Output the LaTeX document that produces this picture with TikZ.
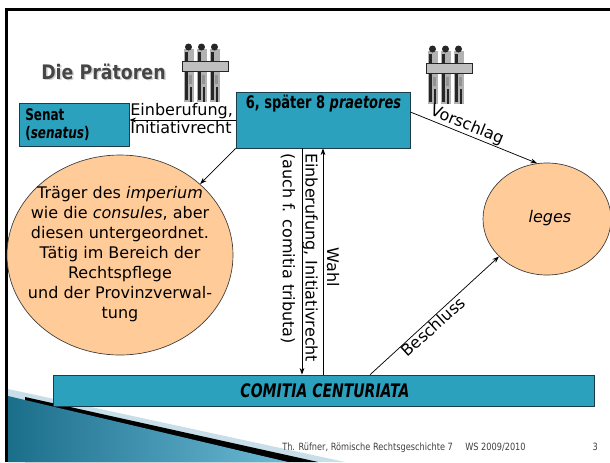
\documentclass[tikz,border=0pt]{standalone}
\usepackage{fontspec}
\setmainfont{DejaVu Sans}
\newfontfamily\cb{DejaVu Sans}[FakeStretch=0.75]
\newfontfamily\ft{DejaVu Sans}[FakeStretch=0.82]
\newfontfamily\tf{DejaVu Sans}[FakeStretch=0.87]
\usetikzlibrary{arrows.meta,shapes.geometric,calc}
\definecolor{boxblue}{HTML}{2BA1BD}
\definecolor{boxline}{HTML}{1E3C48}
\definecolor{peach}{HTML}{FFCC99}
\definecolor{ellline}{HTML}{3A3A3A}
\definecolor{footgray}{HTML}{404040}
\definecolor{swdark}{HTML}{1B6E8A}
\definecolor{swlight}{HTML}{6BBAD6}
\definecolor{swband}{HTML}{C8DEE8}
\begin{document}
\begin{tikzpicture}[x=0.75pt,y=-0.75pt,font=\fontsize{12}{15}\selectfont,
  arr/.style={-{Stealth[length=5pt,width=3.6pt]},line width=0.55pt},
  bluebox/.style={draw=boxline,fill=boxblue,line width=0.6pt,rectangle,inner sep=0pt},
  peachell/.style={draw=ellline,fill=peach,ellipse,line width=0.5pt,inner sep=0pt},
  lbl/.style={inner sep=0.5pt},
  titlestyle/.style={anchor=base west,inner sep=0pt,font=\tf\bfseries\fontsize{15}{18}\selectfont},
  footstyle/.style={inner sep=0pt,text=footgray,font=\ft\fontsize{7.5}{9}\selectfont}]
\useasboundingbox (0,0) rectangle (610,462);
\fill[white] (0,0) rectangle (610,462);

% bottom-left swoosh
\fill[swband] (8,389) -- (345,462) -- (8,462) -- cycle;
\fill[black] (25,397) -- (318,462) -- (25,462) -- cycle;
\shade[left color=swdark,right color=swlight] (8,396) -- (288,462) -- (8,462) -- cycle;

% frame
\fill[black] (5,8) rectangle (610,11);
\fill[black] (5,8) rectangle (8,462);

% soldiers
\foreach \gx/\gy in {183/43,427/45}{
  \foreach \i in {0,1,2}{
    \fill[gray!60] (\gx+13*\i+1,\gy+6) rectangle ++(10,53);
    \fill[gray!30!black] (\gx+13*\i+5.5,\gy+4) circle (3.5);
    \fill[gray!30!black] (\gx+13*\i+2,\gy+9) rectangle ++(3,48);
    \fill[gray!85] (\gx+13*\i+6,\gy+32) rectangle ++(3,9);
    \fill[gray!30!black] (\gx+13*\i+7,\gy+44) rectangle ++(2,15);
  }
  \fill[gray!50] (\gx-1,\gy+18) rectangle ++(46,10);
  \draw[gray!30!black,line width=0.4pt] (\gx-1,\gy+18) rectangle ++(46,10);
}

% title
\node[titlestyle,text=gray!35] (titleshadow) at (42.5,80.5) {Die Prätoren};
\node[titlestyle,text=gray!55!black] (title) at (41,79) {Die Prätoren};

% boxes
\node[bluebox,minimum width=82.5pt,minimum height=32.25pt] (senat) at (74,124.5) {};
\node[anchor=west,align=left,inner sep=0pt,font=\cb\bfseries\fontsize{12}{13.5}\selectfont] (senattxt) at (25,124.5) {Senat\\(\textit{senatus})};

\node[bluebox,minimum width=130.5pt,minimum height=42pt] (praet) at (323,120) {};
\node[anchor=base,inner sep=0pt,font=\cb\bfseries\fontsize{13}{15}\selectfont] (praettxt) at (323.5,108) {6, später 8 \textit{praetores}};

\node[bluebox,minimum width=405.75pt,minimum height=23.25pt] (comitia) at (323.5,390.5) {};
\node[inner sep=0pt,font=\cb\bfseries\itshape\fontsize{14}{16}\selectfont] (comtxt) at (325,391) {COMITIA CENTURIATA};

% ellipses
\node[peachell,minimum width=169.5pt,minimum height=150pt] (imp) at (120,255) {};
\node[align=center,inner sep=0pt,font=\fontsize{12}{15}\selectfont] (imptxt) at (120,254) {Träger des \textit{imperium}\\wie die \textit{consules}, aber\\diesen untergeordnet.\\Tätig im Bereich der\\Rechtspflege\\und der Provinzverwal-\\tung};

\node[peachell,minimum width=96pt,minimum height=84pt] (leges) at (547,219) {};
\node[inner sep=0pt,font=\itshape\fontsize{12}{15}\selectfont] (legtxt) at (550,218) {leges};

% connectors
\draw[arr] (praet.west) -- (senat.east |- praet.west);
\node[lbl,anchor=south west] (einb1) at (senat.east |- praet.west) {Einberufung,};
\node[lbl,anchor=north west] (einb2) at (senat.east |- praet.west) {Initiativrecht};

\draw[arr] (praet.south west) -- (imp.north east);

\draw[arr] ([yshift=6pt]praet.east) -- node[sloped,above,pos=0.42,lbl] (vorl) {Vorschlag} (leges.100);

\draw[arr] ([xshift=-15.75pt]praet.south) -- ([xshift=-15.75pt]praet.south |- comitia.north);
\draw[arr] (praet.south |- comitia.north) -- (praet.south);
\node[rotate=-90,anchor=north west,align=left,inner sep=0pt,font=\fontsize{12}{17}\selectfont] (einbv) at (318,153) {Einberufung, Initiativrecht\\(auch f. comitia tributa)};
\node[rotate=-90,inner sep=0pt] (wahl) at (333,267) {Wahl};

\draw[arr] ([xshift=35pt]comitia.north) -- node[sloped,below,pos=0.45,lbl] (beschl) {Beschluss} (leges.218);

% footer
\node[footstyle,anchor=base west] (foot1) at (282,450) {Th. Rüfner, Römische Rechtsgeschichte 7};
\node[footstyle,anchor=base west] (foot2) at (465,450) {WS 2009/2010};
\node[footstyle,anchor=base east] (foot3) at (598,450) {3};
\end{tikzpicture}
\end{document}
